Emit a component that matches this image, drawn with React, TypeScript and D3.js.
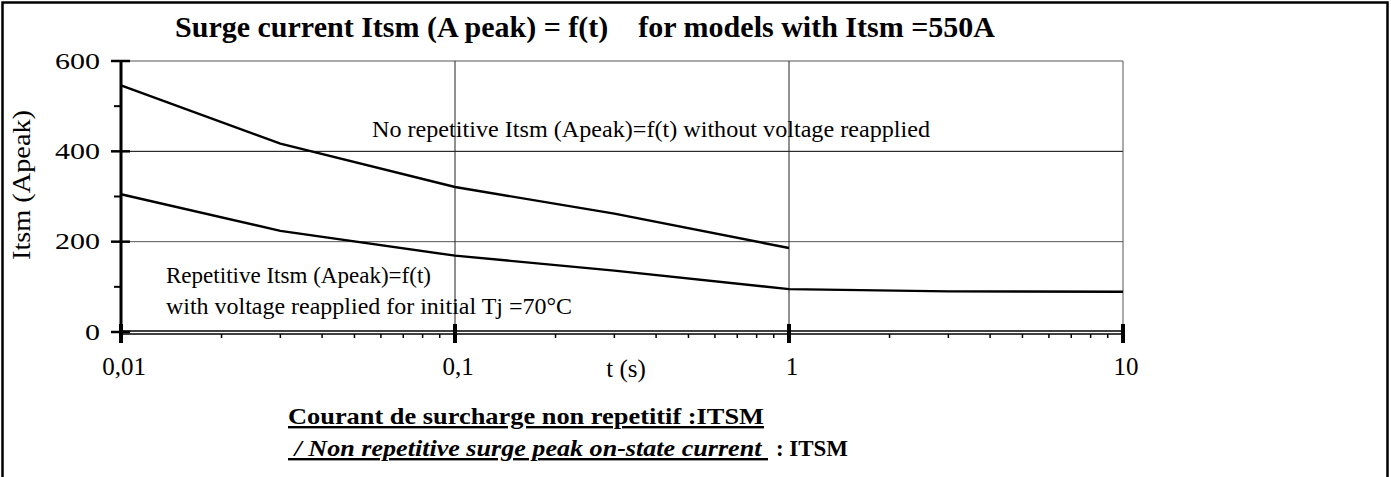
import * as d3 from "d3";

const WIDTH = 1391;
const HEIGHT = 477;
const PLOT = { left: 121, right: 1123, top: 61, bottom: 332 };
const FONT = "'Liberation Serif', 'Times New Roman', serif";

// readings
const noRepT = [0.01, 0.03, 0.1, 0.3, 1];
const noRepI = [546, 417, 321, 262, 186];
const repT = [0.01, 0.03, 0.1, 0.3, 1, 3, 10];
const repI = [305, 224, 169, 136, 95, 90, 89];

const yMajor = [0, 200, 400, 600];
const yMinor = [100, 300, 500];
const xMajor = [0.01, 0.1, 1, 10];
const xMajorLabels = ["0,01", "0,1", "1", "10"];

export default function App() {
  const x = d3.scaleLog().domain([0.01, 10]).range([PLOT.left, PLOT.right]);
  const y = d3.scaleLinear().domain([0, 600]).range([PLOT.bottom, PLOT.top]);

  const line = d3
    .line<[number, number]>()
    .x((d) => x(d[0]))
    .y((d) => y(d[1]));

  const noRepPath = line(noRepT.map((t, i) => [t, noRepI[i]])) || "";
  const repPath = line(repT.map((t, i) => [t, repI[i]])) || "";

  const xMinor: number[] = [];
  [0.01, 0.1, 1].forEach((dec) => {
    for (let k = 2; k <= 9; k++) xMinor.push(dec * k);
  });

  return (
    <svg
      width={WIDTH}
      height={HEIGHT}
      style={{ position: "absolute", left: 0, top: 0, background: "#fff" }}
      fontFamily={FONT}
    >
      <rect x={2.5} y={2.5} width={1385} height={490} fill="none" stroke="#000" strokeWidth={2.5} />

      <text x={175} y={37} fontSize={30} fontWeight="bold" xmlSpace="preserve" textLength={820} lengthAdjust="spacingAndGlyphs">
        {"Surge current Itsm (A peak) = f(t)    for models with Itsm =550A"}
      </text>

      {/* grid */}
      {[600, 400, 200].map((v) => (
        <line
          key={`h-${v}`}
          x1={PLOT.left}
          x2={PLOT.right}
          y1={y(v)}
          y2={y(v)}
          stroke={v === 400 ? "#000" : "#555"}
          strokeWidth={1}
        />
      ))}
      {[0.1, 1, 10].map((t) => (
        <line
          key={`v-${t}`}
          x1={x(t)}
          x2={x(t)}
          y1={PLOT.top}
          y2={PLOT.bottom}
          stroke={t === 10 ? "#555" : "#222"}
          strokeWidth={1}
        />
      ))}

      {/* series */}
      <path d={noRepPath} fill="none" stroke="#000" strokeWidth={2.4} />
      <path d={repPath} fill="none" stroke="#000" strokeWidth={2.4} />

      {/* x axis */}
      <line x1={PLOT.left} x2={PLOT.right} y1={PLOT.bottom - 1} y2={PLOT.bottom - 1} stroke="#000" strokeWidth={1.3} />
      <line x1={PLOT.left} x2={PLOT.right} y1={PLOT.bottom + 2} y2={PLOT.bottom + 2} stroke="#000" strokeWidth={1.3} />
      {xMinor.map((t) => (
        <line key={`xm-${t}`} x1={x(t)} x2={x(t)} y1={PLOT.bottom + 2} y2={PLOT.bottom + 6} stroke="#000" strokeWidth={1.5} />
      ))}
      {xMajor.map((t, i) => (
        <g key={`xM-${t}`}>
          <line x1={x(t)} x2={x(t)} y1={PLOT.bottom - 8} y2={PLOT.bottom + 11} stroke="#000" strokeWidth={4} />
          <text x={x(t) + 3} y={375} textAnchor="middle" fontSize={25}>
            {xMajorLabels[i]}
          </text>
        </g>
      ))}
      <text x={626} y={377} textAnchor="middle" fontSize={25}>
        t (s)
      </text>

      {/* y axis */}
      <line x1={PLOT.left} x2={PLOT.left} y1={PLOT.top} y2={PLOT.bottom + 3} stroke="#000" strokeWidth={3} />
      {yMajor.map((v) => (
        <g key={`yM-${v}`}>
          <line x1={111} x2={130} y1={y(v)} y2={y(v)} stroke="#000" strokeWidth={2.5} />
          <text
            x={100}
            y={y(v) + 7.5}
            textAnchor="end"
            fontSize={23}
            textLength={v === 0 ? 15 : 45}
            lengthAdjust="spacingAndGlyphs"
          >
            {v}
          </text>
        </g>
      ))}
      {yMinor.map((v) => (
        <line key={`ym-${v}`} x1={114} x2={PLOT.left} y1={y(v)} y2={y(v)} stroke="#000" strokeWidth={2} />
      ))}
      <text
        transform={`translate(30 185) rotate(-90)`}
        textAnchor="middle"
        fontSize={25}
        textLength={150}
        lengthAdjust="spacingAndGlyphs"
      >
        Itsm (Apeak)
      </text>

      {/* annotations */}
      <text x={372} y={137} fontSize={23.5} textLength={558} lengthAdjust="spacingAndGlyphs">
        No repetitive Itsm (Apeak)=f(t) without voltage reapplied
      </text>
      <text x={166} y={283} fontSize={23.5} textLength={265} lengthAdjust="spacingAndGlyphs">
        Repetitive Itsm (Apeak)=f(t)
      </text>
      <text x={166} y={314} fontSize={23.5} textLength={406} lengthAdjust="spacingAndGlyphs">
        with voltage reapplied for initial Tj =70°C
      </text>

      {/* footer */}
      <text
        x={288}
        y={424}
        fontSize={24}
        fontWeight="bold"
        textDecoration="underline"
        textLength={476}
        lengthAdjust="spacingAndGlyphs"
      >
        Courant de surcharge non repetitif :ITSM
      </text>
      <text
        x={288}
        y={456}
        fontSize={24}
        fontWeight="bold"
        fontStyle="italic"
        textDecoration="underline"
        xmlSpace="preserve"
        textLength={480}
        lengthAdjust="spacingAndGlyphs"
      >
        {" / Non repetitive surge peak on-state current "}
      </text>
      <text x={776} y={456} fontSize={24} fontWeight="bold" textLength={72} lengthAdjust="spacingAndGlyphs">
        : ITSM
      </text>
    </svg>
  );
}
